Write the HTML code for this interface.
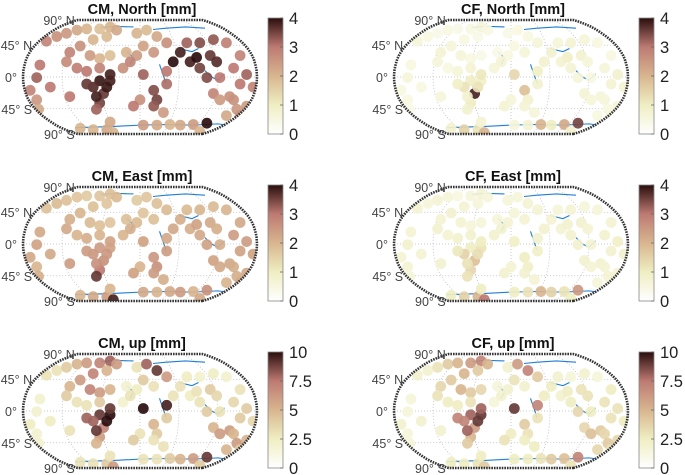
<!DOCTYPE html>
<html><head><meta charset="utf-8">
<style>
html,body{margin:0;padding:0;background:#fff;width:685px;height:475px;overflow:hidden}
svg{display:block;font-family:"Liberation Sans",Arial,sans-serif}
</style></head>
<body>
<svg id="fig" width="685" height="475" viewBox="0 0 685 475" xmlns="http://www.w3.org/2000/svg">
<defs>
<linearGradient id="cmap" x1="0" y1="1" x2="0" y2="0">
<stop offset="0" stop-color="#ffffff"/>
<stop offset="0.25" stop-color="#efeec2"/>
<stop offset="0.5" stop-color="#d8b58f"/>
<stop offset="0.75" stop-color="#bd7a72"/>
<stop offset="1" stop-color="#2a0e0e"/>
</linearGradient>
</defs>
</svg>
<script>
// station locations (lon, lat)
const stationLon = [-144,-128,-113,-97,-82,-62,-46,-36,-51,-72,-92,-108,-113,-97,-82,-62,-46,-77,-62,
-5,10,26,41,5,21,-5,-21,-26,-15,
-62,-46,-72,-56,-62,-67,-46,-82,-51,-67,
-154,-159,-169,-159,-108,-156,-138,
5,21,26,21,41,41,0,-10,36,
51,77,87,108,118,92,103,123,144,154,113,133,72,92,62,138,113,123,144,154,164,174,164,149,133,154,
-92,-72,-51,-41,5,26,46,62,82,103,92,-46];
const stationLat = [56.5,64,69,74,76,76,79,74,64,59,49,39,24,14,9,29,34,34,14,
69,74,64,54,49,39,34,39,14,24,
-6,-6,-16,-26,-41,-51,4,-11,-16,-31,
19,-1,-21,-36,-31,-51,-16,
4,-21,-36,-46,9,-11,-36,-46,-56,
24,24,31,34,24,14,-1,-1,14,34,59,54,54,54,39,-31,-26,-36,-36,-11,4,-16,-46,-51,-61,-61,
-81,-83,-83,-88,-76,-76,-75,-76,-75,-73,-86,-71];
const cmNorth = [2.8,2.6,2.5,2.2,2.0,1.8,2.0,2.2,1.9,2.0,2.6,2.8,2.7,2.9,3.0,2.0,1.8,2.4,2.8,
2.0,1.9,2.2,2.6,2.3,2.5,2.4,2.0,2.6,2.8,
3.9,3.8,3.7,3.6,3.5,3.2,3.8,3.6,3.9,3.8,
3.0,3.2,2.8,2.5,3.0,2.2,3.0,
3.2,3.4,3.5,3.3,3.0,3.1,2.6,3.0,2.4,
4.0,3.8,4.0,3.6,3.7,3.5,3.4,3.0,3.0,2.8,3.3,2.9,3.2,3.4,3.8,2.6,2.8,2.4,2.6,3.0,3.2,2.8,2.4,2.5,2.2,2.6,
2.0,2.0,2.2,2.0,2.4,2.2,2.0,2.2,2.4,4.0,2.0,2.2];
const cfNorth = [0.6,0.5,0.4,0.5,0.4,0.5,0.6,0.5,0.4,0.5,0.6,0.7,0.6,0.5,0.6,0.5,0.4,0.6,0.7,
0.4,0.5,0.5,0.6,0.5,0.6,0.5,0.4,0.6,0.7,
1.0,0.9,1.2,3.8,1.0,0.8,1.1,0.9,1.2,0.8,
0.5,0.6,0.5,0.5,0.6,0.4,0.5,
1.4,1.8,0.8,0.7,0.9,0.8,0.6,0.7,0.6,
0.8,0.7,0.9,0.8,0.6,0.7,0.6,0.5,0.6,0.5,0.6,0.5,0.6,0.7,0.8,0.6,0.7,0.6,0.6,0.7,0.8,0.7,0.6,0.5,0.5,0.6,
0.8,1.5,1.2,2.0,0.6,0.7,2.0,1.0,2.2,3.5,0.8,0.7];
const cmEast = [1.8,1.9,1.8,1.7,1.6,1.7,1.8,1.9,1.7,1.8,2.0,2.1,2.2,2.0,2.1,1.8,1.7,1.9,2.0,
1.6,1.7,1.8,1.9,1.7,1.8,1.9,1.8,2.0,2.1,
2.4,2.3,2.5,2.6,3.0,3.6,2.3,2.4,2.5,2.6,
2.2,2.3,2.2,2.0,2.4,2.1,2.2,
2.3,2.5,2.6,2.4,2.2,2.4,2.0,2.3,2.1,
2.2,2.1,2.3,2.2,2.1,2.2,2.3,2.1,2.4,2.2,1.9,2.0,1.9,2.0,2.1,2.2,2.3,2.2,2.1,2.3,2.4,2.3,2.2,2.1,2.0,2.2,
2.0,2.2,2.4,3.8,2.2,2.0,2.2,2.4,2.0,2.6,2.2,2.0];
const cfEast = [0.7,0.6,0.7,0.6,0.5,0.6,0.7,0.6,0.6,0.7,0.8,0.7,0.8,0.7,0.8,0.6,0.6,0.7,0.8,
0.6,0.6,0.7,0.7,0.6,0.7,0.7,0.6,0.8,0.8,
1.0,1.2,1.5,1.8,1.4,1.2,1.0,1.1,1.3,1.2,
0.7,0.8,0.7,0.7,0.8,0.6,0.7,
0.9,1.0,0.9,0.8,0.8,0.9,0.7,0.8,0.7,
0.8,0.7,0.8,0.8,0.7,0.8,0.8,0.7,0.8,0.7,0.6,0.6,0.6,0.7,0.7,0.8,0.8,0.7,0.7,0.8,0.9,0.8,0.7,0.7,0.6,0.7,
1.0,1.5,2.0,3.0,1.0,1.2,2.0,1.5,1.2,2.5,1.0,1.0];
const cmUp = [3,3,4,5,6,7,8,6,5,7,6,5,4,3,3,6,5,7,4,
3,8,9,6,4,3,2.5,2,2,3,
9,10,8,7,6,5,9,8,10,9,
2,2,2.5,2,3,2,2.5,
10,5,4,3,9.5,4,3,4,3,
3,2.5,3,4,3.5,3,4,3,3.5,3,2.5,2,2.5,2,3,6,5,6,5,4,4,3.5,5,6,5,4,
3,3,4,6,3,3,4,5,6,9,4,3];
const cfUp = [2,2,3,4,5,6,7,5,4,5,4,3.5,3,2.5,2.5,4,3.5,5,3,
2,6,7,4,3,2,2,1.5,1.5,2,
8,9,7,6,5,4,8,7,9,8,
1.5,1.5,2,1.5,2,1.5,2,
9,4,3,2.5,7,3,2.5,3,2.5,
2.5,2,2.5,3,3,2.5,3.5,2.5,3,2.5,2,1.5,2,1.5,2.5,4,3.5,4.5,3.5,3,3,2.5,3.5,4,3.5,3,
2.5,2.5,3,4,2.5,2.5,3,4,4.5,7,3,2.5];
const ticksSmall = ["4","3","2","1","0"];
const ticksUp = ["10","7.5","5","2.5","0"];
const latLabels = ["90° N","45° N","0°","45° S","90° S"];
const latTickVals = [90,45,0,-45,-90];

const panels = [
 {title:"CM, North [mm]", vals:cmNorth, max:4, ticks:ticksSmall, cx:140, cy:77, name:"cm-north"},
 {title:"CF, North [mm]", vals:cfNorth, max:4, ticks:ticksSmall, cx:511, cy:77, name:"cf-north"},
 {title:"CM, East [mm]", vals:cmEast, max:4, ticks:ticksSmall, cx:140, cy:244, name:"cm-east"},
 {title:"CF, East [mm]", vals:cfEast, max:4, ticks:ticksSmall, cx:511, cy:244, name:"cf-east"},
 {title:"CM, up [mm]", vals:cmUp, max:10, ticks:ticksUp, cx:140, cy:411, name:"cm-up"},
 {title:"CF, up [mm]", vals:cfUp, max:10, ticks:ticksUp, cx:511, cy:411, name:"cf-up"}
];

const NS = "http://www.w3.org/2000/svg";
const svg = document.getElementById("fig");
const HW = 117, HH = 57;
const robX = [1,.9986,.9954,.99,.9822,.973,.96,.9427,.9216,.8962,.8679,.835,.7986,.7597,.7186,.6732,.6213,.5722,.5322];
const robY = [0,.062,.124,.186,.248,.31,.372,.434,.4958,.5571,.6176,.6769,.7346,.7903,.8435,.8936,.9394,.9761,1];
function rob(arr, lat){const a=Math.min(90,Math.abs(lat))/5;const i=Math.min(17,Math.floor(a));const f=a-i;return arr[i]+(arr[i+1]-arr[i])*f;}
function proj(lon,lat,cx,cy){return [cx+lon/180*HW*rob(robX,lat), cy-Math.sign(lat)*rob(robY,lat)*HH];}
function projLin(lon,lat,cx,cy){return [cx+lon/180*HW, cy-lat/90*HH];}
function color(t){
  const stops=[[0,[255,255,255]],[0.25,[239,238,194]],[0.5,[216,181,143]],[0.75,[189,122,114]],[1,[42,14,14]]];
  t=Math.max(0,Math.min(1,t));
  for(let i=0;i<4;i++){const a=stops[i],b=stops[i+1];if(t<=b[0]){const f=(t-a[0])/(b[0]-a[0]);
    return "rgb("+a[1].map((c,k)=>Math.round(c+(b[1][k]-c)*f)).join(",")+")";}}
  return "rgb(42,14,14)";
}
function el(tag,attrs,parent){const e=document.createElementNS(NS,tag);for(const k in attrs)e.setAttribute(k,attrs[k]);(parent||svg).appendChild(e);return e;}
function outline(cx,cy){
  let pts=[];
  for(let lat=-90;lat<=90;lat+=5)pts.push(proj(180,lat,cx,cy));
  for(let lat=90;lat>=-90;lat-=5)pts.push(proj(-180,lat,cx,cy));
  return "M"+pts.map(p=>p[0].toFixed(1)+","+p[1].toFixed(1)).join("L")+"Z";
}

panels.forEach((p,pi)=>{
  const g=el("g",{});
  
  
  const clipId="clip"+pi;
  const cp=el("clipPath",{id:clipId},g);
  el("path",{d:outline(p.cx,p.cy)},cp);
  const t=el("text",{x:p.cx+2,y:p.cy-63,"text-anchor":"middle","font-size":"14.5","font-weight":"bold",fill:"#111"},g);
  t.textContent=p.title;
  
  
  const grid=el("g",{stroke:"#bbb","stroke-width":"0.8","stroke-dasharray":"1 2",fill:"none","clip-path":"url(#"+clipId+")"},g);
  
  
  [-45,0,45].forEach(lat=>{const a=proj(-180,lat,p.cx,p.cy),b=proj(180,lat,p.cx,p.cy);el("line",{x1:a[0],y1:a[1],x2:b[0],y2:b[1]},grid);});
  [-120,-60,0,60,120].forEach(lon=>{let pts=[];for(let lat=-90;lat<=90;lat+=5)pts.push(proj(lon,lat,p.cx,p.cy));el("path",{d:"M"+pts.map(q=>q.join(",")).join("L")},grid);});
  const coast=el("g",{stroke:"#1f7fd6","stroke-width":"1.1",fill:"none","clip-path":"url(#"+clipId+")"},g);
  
  
  const coastLines=[[[-100,-80],[-70,-79],[-40,-78],[0,-76],[40,-75],[80,-76],[120,-74],[150,-78]],
    [[-60,78],[-40,80],[-10,79]],[[20,75],[40,77],[70,79],[100,77]],[[-20,40],[-10,30],[-15,20]],
    [[30,20],[35,5],[40,-10]],[[100,10],[110,0],[120,-5],[130,5]],[[60,45],[80,40],[90,45]]];
  coastLines.forEach(l=>{el("path",{d:"M"+l.map(q=>projLin(q[0],q[1],p.cx,p.cy).join(",")).join("L")},coast);});
  const dots=el("g",{"clip-path":"url(#"+clipId+")"},g);
  
  
  stationLon.forEach((lon,i)=>{
    const q=projLin(lon,stationLat[i],p.cx,p.cy);
    const c=el("circle",{cx:q[0].toFixed(1),cy:q[1].toFixed(1),r:5.4,fill:color(p.vals[i]/p.max),"fill-opacity":"0.92"},dots);
    
    
  });
  const b=el("path",{d:outline(p.cx,p.cy),fill:"none",stroke:"#333","stroke-width":"2.6","stroke-dasharray":"1.6 1"},g);
  
  
  latTickVals.forEach((lat,i)=>{
    const q=proj(-180,lat,p.cx,p.cy);
    const tx=el("text",{x:q[0]-(lat===0?6:3),y:q[1]+5,"text-anchor":"end","font-size":"12.5",fill:"#444"},g);
    tx.textContent=latLabels[i];
    
    
  });
  const bx=p.cx+128, by=p.cy-59, bh=116;
  const cb=el("rect",{x:bx,y:by,width:15,height:bh,fill:"url(#cmap)",stroke:"#888","stroke-width":"0.8"},g);
  
  
  p.ticks.forEach((tk,i)=>{
    const y=by+bh*i/(p.ticks.length-1);
    el("line",{x1:bx+12,x2:bx+15,y1:y,y2:y,stroke:"#666","stroke-width":"0.8"},g);
    const tt=el("text",{x:bx+21,y:y+6,"font-size":"16.5",fill:"#222"},g);
    tt.textContent=tk;
    
    
  });
});
</script>
</body></html>
